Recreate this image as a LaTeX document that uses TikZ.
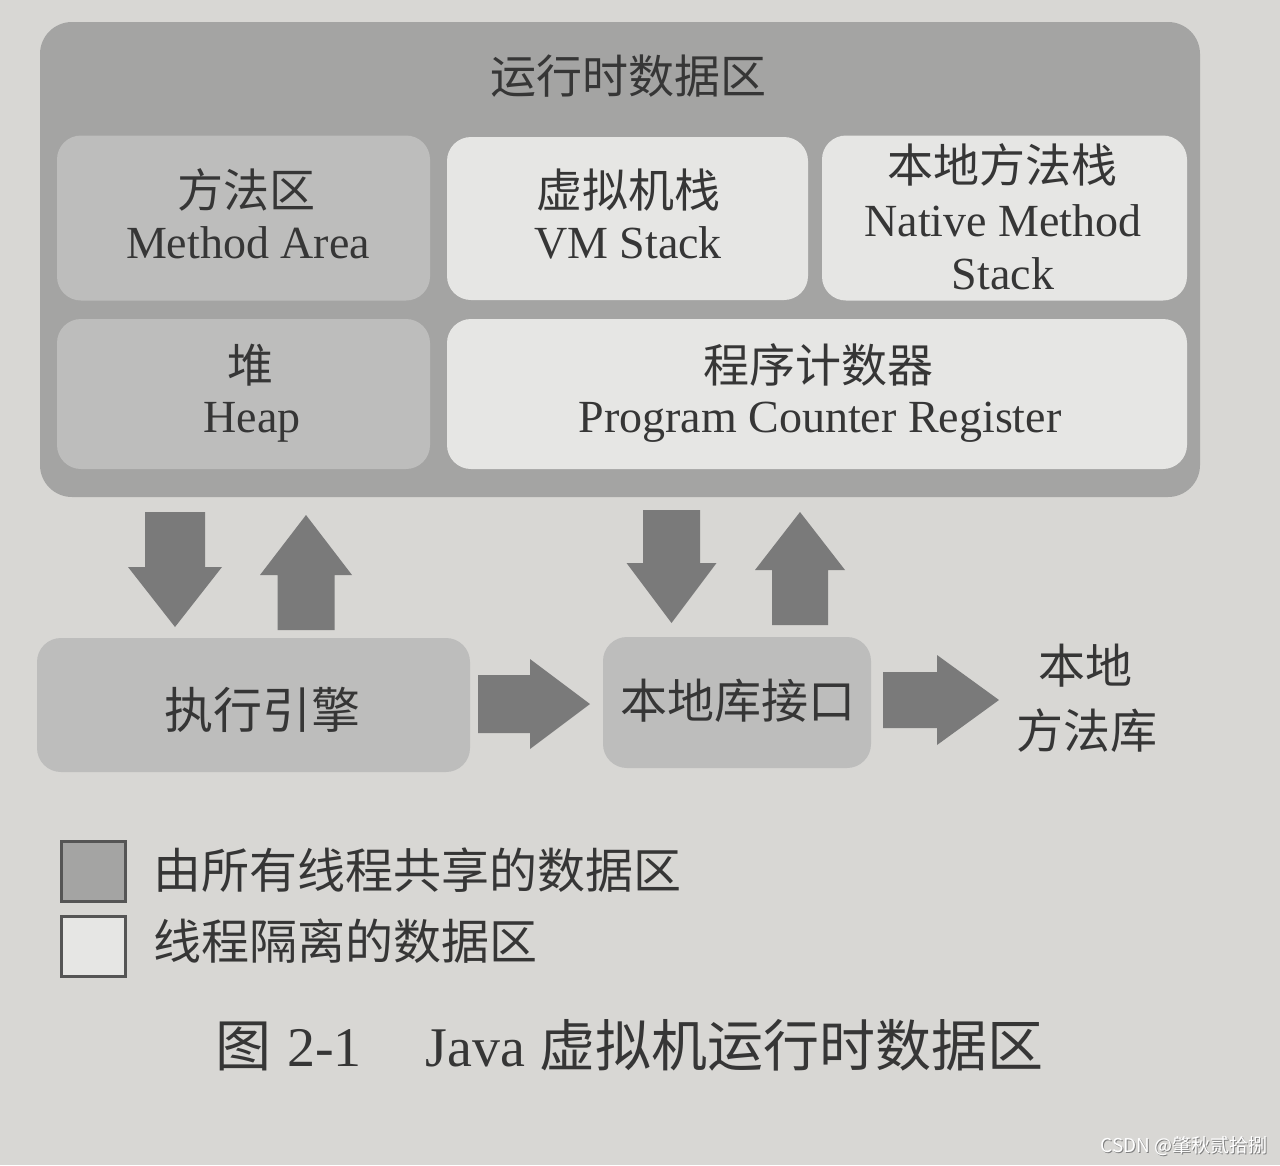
\documentclass[tikz,border=0pt]{standalone}
\usepackage{fontspec}
\setmainfont{Liberation Serif}
\newfontfamily\cjk{Noto Sans CJK SC}
\definecolor{paper}{HTML}{D8D7D4}
\definecolor{outergray}{HTML}{A4A4A3}
\definecolor{sharedgray}{HTML}{BDBDBC}
\definecolor{privwhite}{HTML}{E6E6E4}
\definecolor{arrowgray}{HTML}{7A7A7A}
\definecolor{inkgray}{HTML}{363636}
\definecolor{edgegray}{HTML}{555555}
\newcommand{\blkV}[6]{% cx, half shaft, half head, tail y, head base y, tip y
  \fill[arrowgray] (#1-#2,#4) -- (#1+#2,#4) -- (#1+#2,#5) -- (#1+#3,#5) -- (#1,#6) -- (#1-#3,#5) -- (#1-#2,#5) -- cycle;}
\newcommand{\blkH}[6]{% cy, half shaft, half head, tail x, head base x, tip x
  \fill[arrowgray] (#4,#1-#2) -- (#4,#1+#2) -- (#5,#1+#2) -- (#5,#1+#3) -- (#6,#1) -- (#5,#1-#3) -- (#5,#1-#2) -- cycle;}
\tikzset{
  rbox/.style={rounded corners=24pt, draw=none, inner sep=0pt},
  shared/.style={rbox, fill=sharedgray},
  private/.style={rbox, fill=privwhite},
  zh/.style={anchor=base, inner sep=0pt, text=inkgray, font=\cjk\fontsize{46}{54}\selectfont},
  en/.style={anchor=base, inner sep=0pt, text=inkgray, font=\fontsize{46}{54}\selectfont},
  legendbox/.style={draw=edgegray, line width=3pt, minimum width=64pt, minimum height=60pt, inner sep=0pt},
}
\begin{document}
\begin{tikzpicture}[x=1pt,y=-1pt]
\fill[paper] (0,0) rectangle (1280,1165);
\useasboundingbox (0,0) rectangle (1280,1165);

% runtime data area
\node[rbox, fill=outergray, rounded corners=32pt, minimum width=1160pt, minimum height=475pt] (rtda) at (620,259.5) {};
\node[zh] (rtdatitle) at (628,93) {运行时数据区};

\node[shared, minimum width=373pt, minimum height=165pt] (method) at (243.5,218) {};
\node[zh] (methodzh) at (246,207) {方法区};
\node[en] (methoden) at (248,258) {Method Area};

\node[private, minimum width=361pt, minimum height=163pt] (vmstack) at (627.5,218.5) {};
\node[zh] (vmzh) at (628,207) {虚拟机栈};
\node[en] (vmen) at (628,258) {VM Stack};

\node[private, minimum width=365pt, minimum height=165pt] (native) at (1004.5,218) {};
\node[zh] (nativezh) at (1002,182) {本地方法栈};
\node[en] (nativeen1) at (1003,236) {Native Method};
\node[en] (nativeen2) at (1003,289) {Stack};

\node[shared, minimum width=373pt, minimum height=150pt] (heap) at (243.5,394) {};
\node[zh] (heapzh) at (250,382) {堆};
\node[en] (heapen) at (252,432) {Heap};

\node[private, minimum width=740pt, minimum height=150pt] (pc) at (817,394) {};
\node[zh] (pczh) at (818,382) {程序计数器};
\node[en] (pcen) at (820,432) {Program Counter Register};

% execution engine and native interface
\node[shared, minimum width=433pt, minimum height=134pt] (engine) at (253.5,705) {};
\node[zh, font=\cjk\fontsize{49}{54}\selectfont] (enginezh) at (262,728) {执行引擎};

\node[shared, minimum width=268pt, minimum height=131pt] (jni) at (737,702.5) {};
\node[zh, font=\cjk\fontsize{47}{54}\selectfont] (jnizh) at (738,718) {本地库接口};

\node[zh, font=\cjk\fontsize{47}{54}\selectfont] (nlib1) at (1085,683) {本地};
\node[zh, font=\cjk\fontsize{47}{54}\selectfont] (nlib2) at (1087,748) {方法库};

% block arrows
\blkV{175}{30}{47}{512}{567}{627}
\blkV{306}{28.5}{46}{630}{575}{515}
\blkV{671.5}{28.5}{45}{510}{563}{623}
\blkV{800}{28}{45}{625}{570}{512}
\blkH{704}{29}{45}{478}{530}{590}
\blkH{700}{28}{45}{883}{937}{999}

% legend
\node[legendbox, fill=outergray] (lgshared) at (93.5,871) {};
\node[zh, anchor=base west, font=\cjk\fontsize{48}{54}\selectfont] (lgsharedtxt) at (153,888) {由所有线程共享的数据区};
\node[legendbox, fill=privwhite] (lgpriv) at (93.5,946) {};
\node[zh, anchor=base west, font=\cjk\fontsize{48}{54}\selectfont] (lgprivtxt) at (153,959) {线程隔离的数据区};

% caption
\node[anchor=base west, inner sep=0pt, text=inkgray, font=\fontsize{56}{60}\selectfont] (caption) at (215,1066)
  {{\cjk 图}\hspace{16pt}2-1\hspace{64pt}Java {\cjk 虚拟机运行时数据区}};

% watermark
\node[anchor=base east, inner sep=0pt, text=gray, font=\cjk\fontsize{19}{22}\selectfont] (wmshadow) at (1269,1153) {CSDN @肇秋贰拾捌};
\node[anchor=base east, inner sep=0pt, text=white, font=\cjk\fontsize{19}{22}\selectfont] (wm) at (1268,1152) {CSDN @肇秋贰拾捌};
\end{tikzpicture}
\end{document}
